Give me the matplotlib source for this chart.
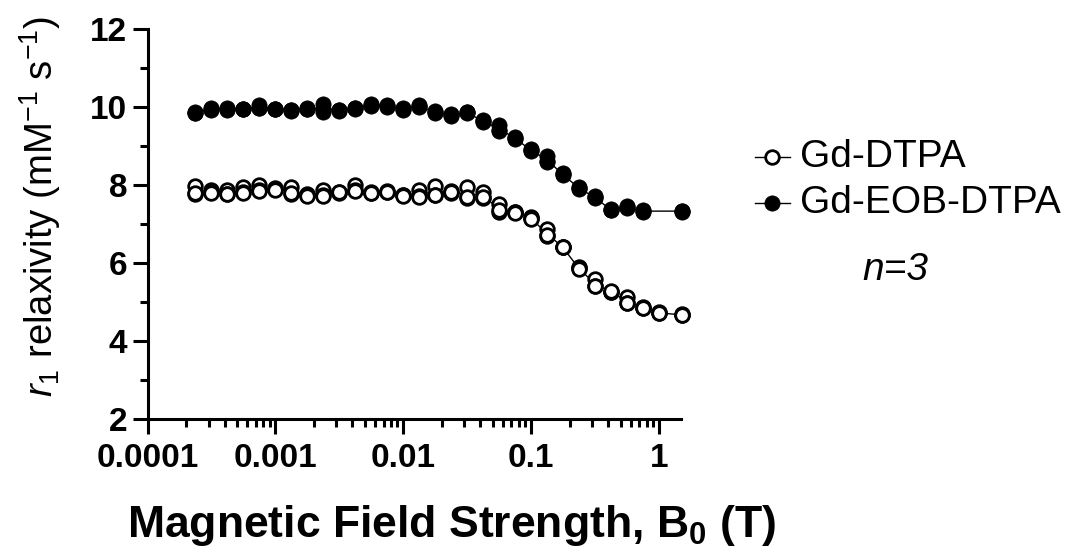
import numpy as np
import matplotlib
matplotlib.use('Agg')
import matplotlib.pyplot as plt
from matplotlib.ticker import FixedLocator, FixedFormatter, MultipleLocator, LogLocator, NullFormatter
from matplotlib.lines import Line2D

plt.rcParams['font.family'] = ['Liberation Sans', 'DejaVu Sans']
plt.rcParams['mathtext.fontset'] = 'custom'
plt.rcParams['mathtext.rm'] = 'Liberation Sans'
plt.rcParams['mathtext.it'] = 'Liberation Sans:italic'
plt.rcParams['mathtext.bf'] = 'Liberation Sans:bold'

# ---------------- data ----------------
field_dtpa = [0.000235, 0.000313, 0.000418, 0.000557, 0.000743, 0.000991, 0.00132, 0.00176,
              0.00235, 0.00313, 0.00418, 0.00557, 0.00743, 0.00991, 0.0132, 0.0176,
              0.0235, 0.0313, 0.0418, 0.0557, 0.0743, 0.0991, 0.132, 0.176,
              0.235, 0.313, 0.418, 0.557, 0.743, 0.991, 1.5]
dtpa_rep1 = [7.97, 7.86, 7.88, 7.95, 8.00, 7.92, 7.95, 7.76, 7.87, 7.83, 8.00, 7.81, 7.85, 7.75, 7.87, 7.98,
             7.85, 7.95, 7.83, 7.52, 7.31, 7.18, 6.86, 6.42, 5.89, 5.60, 5.26, 5.13, 4.86, 4.74, 4.68]
dtpa_rep2 = [7.78, 7.82, 7.78, 7.82, 7.88, 7.90, 7.78, 7.74, 7.74, 7.80, 7.87, 7.80, 7.83, 7.74, 7.72, 7.75,
             7.80, 7.67, 7.67, 7.31, 7.30, 7.15, 6.70, 6.41, 5.87, 5.42, 5.25, 4.97, 4.85, 4.72, 4.67]
dtpa_rep3 = [7.80, 7.80, 7.76, 7.80, 7.85, 7.88, 7.80, 7.72, 7.72, 7.82, 7.85, 7.79, 7.82, 7.73, 7.70, 7.74,
             7.82, 7.70, 7.70, 7.35, 7.28, 7.14, 6.72, 6.40, 5.85, 5.40, 5.27, 4.98, 4.84, 4.71, 4.66]

field_eob = [0.000235, 0.000313, 0.000418, 0.000557, 0.000743, 0.000991, 0.00132, 0.00176,
             0.00235, 0.00313, 0.00418, 0.00557, 0.00743, 0.00991, 0.0132, 0.0176,
             0.0235, 0.0313, 0.0418, 0.0557, 0.0743, 0.0991, 0.132, 0.176,
             0.235, 0.313, 0.418, 0.557, 0.743, 1.5]
eob_rep1 = [9.86, 9.97, 9.97, 9.96, 10.06, 9.96, 9.93, 9.98, 10.08, 9.93, 9.98, 10.08, 10.06, 9.97, 10.05, 9.89,
            9.81, 9.88, 9.66, 9.55, 9.22, 8.92, 8.75, 8.30, 7.95, 7.72, 7.39, 7.45, 7.35, 7.34]
eob_rep2 = [9.84, 9.93, 9.93, 9.94, 9.97, 9.94, 9.91, 9.94, 9.88, 9.91, 9.96, 10.02, 10.00, 9.93, 10.01, 9.85,
            9.77, 9.84, 9.62, 9.38, 9.18, 8.88, 8.58, 8.26, 7.90, 7.66, 7.35, 7.41, 7.31, 7.32]
eob_rep3 = [9.85, 9.95, 9.95, 9.95, 9.98, 9.95, 9.92, 9.95, 9.95, 9.92, 9.97, 10.05, 10.03, 9.95, 10.03, 9.86,
            9.79, 9.86, 9.64, 9.42, 9.20, 8.90, 8.62, 8.28, 7.92, 7.68, 7.37, 7.43, 7.33, 7.33]

series_labels = ['Gd-DTPA', 'Gd-EOB-DTPA']
x_tick_values = [0.0001, 0.001, 0.01, 0.1, 1]
x_tick_labels = ['0.0001', '0.001', '0.01', '0.1', '1']
y_tick_values = [2, 4, 6, 8, 10, 12]
annotation = 'n=3'

# ---------------- figure ----------------
W, H = 1077, 555
fig = plt.figure(figsize=(W / 100, H / 100), dpi=100)
ax = fig.add_axes([147.6 / W, 1 - 419 / H, (680.6 - 147.6) / W, (419 - 29) / H])

LW_AX = 2.2
MS = 9.8
MEW = 2.0

dtpa_mean = np.mean([dtpa_rep1, dtpa_rep2, dtpa_rep3], axis=0)
eob_mean = np.mean([eob_rep1, eob_rep2, eob_rep3], axis=0)

ax.plot(field_dtpa, dtpa_mean, color='black', lw=1.0, zorder=2, clip_on=False)
ax.plot(field_eob, eob_mean, color='black', lw=1.0, zorder=2, clip_on=False)
for rep in (dtpa_rep1, dtpa_rep2, dtpa_rep3):
    ax.plot(field_dtpa, rep, ls='none', marker='o', ms=MS, mfc='white', mec='black',
            mew=MEW, zorder=3, clip_on=False)
for rep in (eob_rep1, eob_rep2, eob_rep3):
    ax.plot(field_eob, rep, ls='none', marker='o', ms=MS + 1.2, mfc='black', mec='black',
            mew=0.5, zorder=3, clip_on=False)

ax.set_xscale('log')
ax.set_xlim(1e-4, 1.475)
ax.set_ylim(2, 12)

for s in ('top', 'right'):
    ax.spines[s].set_visible(False)
for s in ('left', 'bottom'):
    ax.spines[s].set_linewidth(LW_AX)

ax.xaxis.set_major_locator(FixedLocator(x_tick_values))
ax.xaxis.set_major_formatter(FixedFormatter(x_tick_labels))
ax.xaxis.set_minor_locator(LogLocator(base=10, subs=np.arange(2, 10), numticks=20))
ax.xaxis.set_minor_formatter(NullFormatter())
ax.yaxis.set_major_locator(FixedLocator(y_tick_values))
ax.yaxis.set_minor_locator(MultipleLocator(1))

ax.tick_params(which='major', length=10.5, width=LW_AX, direction='out', labelsize=24)
ax.tick_params(axis='x', which='major', pad=7)
ax.tick_params(axis='y', which='major', pad=4)
ax.tick_params(which='minor', length=5.5, width=LW_AX, direction='out')
for lab in ax.get_xticklabels() + ax.get_yticklabels():
    lab.set_fontweight('bold')

def fx(px):
    return px / W

def fy(py):
    return 1 - py / H

fig.text(fx(40), fy(206), r'$\mathit{r}_1$ relaxivity (mM$^{-1}$ s$^{-1}$)', fontsize=27.5,
         rotation=90, ha='center', va='center')
fig.text(fx(452), fy(525), r'Magnetic Field Strength, B$_\mathbf{0}$ (T)', fontsize=32,
         fontweight='bold', ha='center', va='center')

# legend (manual, figure pixel coordinates)
rows = [(157, 'white', MEW, MS), (203, 'black', 0.5, MS + 1.2)]
for (py, fc, mew, ms), lab in zip(rows, series_labels):
    fig.add_artist(Line2D([fx(755), fx(790)], [fy(py), fy(py)], color='black', lw=1.0,
                          transform=fig.transFigure))
    fig.add_artist(Line2D([fx(772)], [fy(py)], ls='none', marker='o', ms=ms, mfc=fc,
                          mec='black', mew=mew, transform=fig.transFigure))
    fig.text(fx(800), fy(py), lab, fontsize=28, va='center', ha='left')

fig.text(fx(862), fy(270), annotation, fontsize=28, style='italic', va='center', ha='left')

fig.savefig('out.png', dpi=100)
